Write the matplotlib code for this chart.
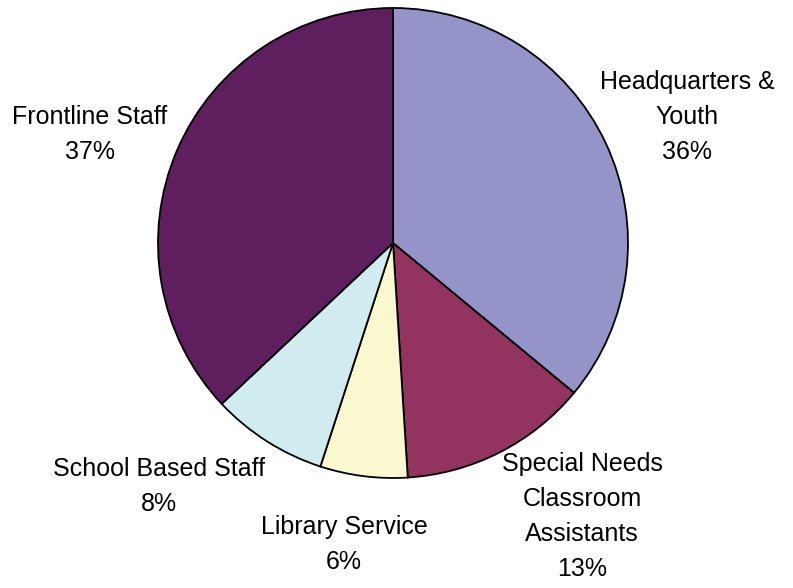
import matplotlib
matplotlib.use("Agg")
import matplotlib.pyplot as plt

# data
categories = ["Headquarters &\nYouth", "Special Needs\nClassroom\nAssistants",
              "Library Service", "School Based Staff", "Frontline Staff"]
shares = [36, 13, 6, 8, 37]
colours = ["#9494C8", "#933360", "#FAF8CE", "#D0ECF0", "#5F1F5F"]

# label centres, in units of the pie radius
label_pos = [(1.251, 0.536), (0.804, -1.162), (-0.209, -1.285), (-0.996, -1.038), (-1.289, 0.46)]

plt.rcParams["font.family"] = ["Liberation Sans", "DejaVu Sans"]

fig = plt.figure(figsize=(7.93, 5.88), dpi=100)
ax = fig.add_axes([(393 - 235) / 793, (345 - 235) / 588, 470 / 793, 470 / 588])

ax.pie(shares, colors=colours, startangle=90, counterclock=False, radius=1,
       wedgeprops=dict(edgecolor="black", linewidth=1.3))

for name, val, (x, y) in zip(categories, shares, label_pos):
    ax.text(x, y, "{}\n{}%".format(name, val), ha="center", va="center",
            fontsize=18, linespacing=1.58, clip_on=False)

ax.set_xlim(-1, 1)
ax.set_ylim(-1, 1)
ax.set_aspect("equal")
ax.axis("off")

fig.savefig("out.png", dpi=100)
